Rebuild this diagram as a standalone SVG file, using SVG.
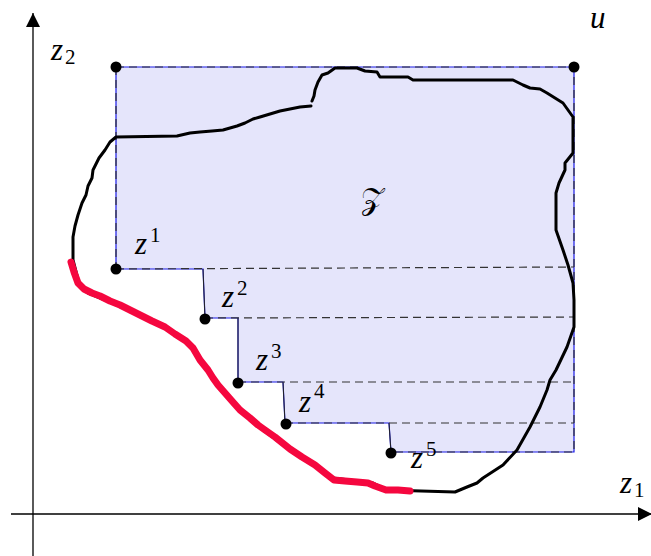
<svg xmlns="http://www.w3.org/2000/svg" width="651" height="556" viewBox="0 0 651 556">
<style>
.lbl{font-family:'Liberation Serif','DejaVu Serif',serif;font-style:italic;font-size:31px;fill:#000}
.idx{font-family:'Liberation Serif','DejaVu Serif',serif;font-size:21px;fill:#000}
.dash{fill:none;stroke:#333;stroke-width:1.2;stroke-dasharray:8 5}
.dot{fill:#000}
</style>
<defs>
<marker id="arr" viewBox="0 0 10 10" refX="10" refY="5" markerWidth="14" markerHeight="14" markerUnits="userSpaceOnUse" orient="auto">
<path d="M0,0 L10,5 L0,10 z" fill="#000"/>
</marker>
</defs>
<g id="axes" stroke="#000" stroke-width="1.3" fill="none">
<line x1="33" y1="556" x2="33" y2="13" marker-end="url(#arr)"/>
<line x1="11" y1="514" x2="652" y2="514" marker-end="url(#arr)"/>
</g>
<g id="region">
<path d="M116,67 L574,67 L574,452 L391,452 L389,423 L285,423 L283,382 L238,382 L238,318 L205,318 L203,269 L116,269 Z" fill="#e5e5fb" stroke="#1a1ae6" stroke-width="1.2"/>
<path class="dash" d="M116,67 L574,67 L574,452 L391,452"/>
<path class="dash" d="M116,67 L116,269"/>
<path d="M391,452 L389,423 M285,423 L283,382 M238,382 L238,318 M205,318 L203,269" fill="none" stroke="#222" stroke-width="1"/>
</g>
<g id="connectors">
<path class="dash" d="M116,269 L574,267"/>
<path class="dash" d="M205,318 L574,317"/>
<path class="dash" d="M238,382 L574,382"/>
<path class="dash" d="M285,423 L574,423"/>
</g>
<g id="set-boundary" fill="none" stroke="#000" stroke-width="3" stroke-linejoin="round" stroke-linecap="round">
<path d="M311,106 L300,107 L290,109 L280,111 L270,114 L260,117 L253,119 L245,123 L237,126 L230,128 L223,130 L212,131 L200,132 L190,133 L177,136 L116,137 L110,142 L105,150 L99,158 L93,170 L92,178 L88,186 L86,195 L82,203 L78,215 L75,226 L73,237 L73,260 L80,287 L88,293 L110,302 L140,316 L167,327 L193,347 L213,377 L223,390 L245,415 L263,430 L290,450 L333,478 L373,483 L387,490 L455,492 L467,487 L477,483 L483,478 L503,465 L517,450 L530,427 L540,407 L547,390 L550,380 L556,370 L567,347 L574,327 L574,300 L573,283 L568,265 L563,250 L556,230 L556,193 L559,183 L565,170 L565,163 L573,153 L573,117 L563,103 L547,93 L540,89 L530,88 L523,85 L513,80 L413,80 L408,77 L380,77 L377,72 L365,71 L357,68 L335,68 L328,73 L322,75 L318,82 L315,90 L314,96 L312,101"/>
</g>
<g id="red-curve" fill="none" stroke="#f5073f" stroke-width="7" stroke-linejoin="round" stroke-linecap="round">
<path d="M71,262 L74,272 L78,283 L84,289 L92,293 L100,296 L110,301 L120,305 L130,310 L140,315 L152,321 L165,327 L175,334 L186,341 L193,348 L200,360 L208,370 L213,378 L218,385 L225,393 L232,401 L240,410 L250,418 L258,425 L265,430 L275,437 L290,449 L302,457 L315,465 L325,473 L334,480 L345,481 L357,482 L368,483 L375,486 L386,490 L398,490 L410,491"/>
</g>
<g id="points">
<circle class="dot" cx="116" cy="67" r="5.5"/>
<circle class="dot" cx="574" cy="67" r="5.5"/>
<circle class="dot" cx="116" cy="269" r="5.5"/>
<circle class="dot" cx="205" cy="319" r="5.5"/>
<circle class="dot" cx="238" cy="383" r="5.5"/>
<circle class="dot" cx="286" cy="424" r="5.5"/>
<circle class="dot" cx="391" cy="453" r="5.5"/>
</g>
<g id="labels">
<g id="label-z2"><text class="lbl" x="51" y="60">z</text><text class="idx" x="65" y="64">2</text></g>
<g id="label-z1"><text class="lbl" x="620" y="493">z</text><text class="idx" x="634" y="497">1</text></g>
<g id="label-u"><text class="lbl" x="590" y="28">u</text></g>
<g id="label-Z"><text x="372" y="209" text-anchor="middle" font-family="'DejaVu Serif','DejaVu Sans','Noto Sans',serif" font-size="30">𝒵</text></g>
<g id="label-zs1"><text class="lbl" x="135" y="254">z</text><text class="idx" x="150" y="242">1</text></g>
<g id="label-zs2"><text class="lbl" x="222" y="307">z</text><text class="idx" x="237" y="295">2</text></g>
<g id="label-zs3"><text class="lbl" x="256" y="370">z</text><text class="idx" x="271" y="358">3</text></g>
<g id="label-zs4"><text class="lbl" x="299" y="412">z</text><text class="idx" x="314" y="398">4</text></g>
<g id="label-zs5"><text class="lbl" x="411" y="468">z</text><text class="idx" x="426" y="456">5</text></g>
</g>
</svg>
